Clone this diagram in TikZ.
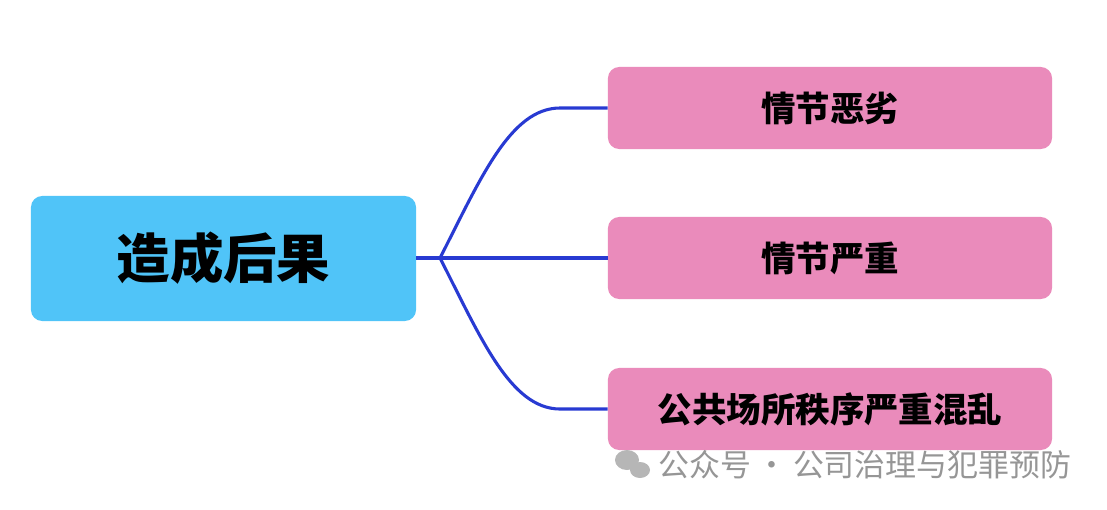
\documentclass[tikz,border=0pt]{standalone}
\usepackage{fontspec}
\newfontfamily\cjk{Noto Sans CJK SC}
\definecolor{rootblue}{RGB}{80,196,248}
\definecolor{leafpink}{RGB}{234,139,187}
\definecolor{linkblue}{RGB}{40,58,210}
\definecolor{markgray}{RGB}{150,150,150}
\tikzset{
  rootbox/.style={rectangle, rounded corners=8pt, fill=rootblue, minimum width=9.625cm, minimum height=3.125cm, font=\cjk\bfseries\fontsize{38}{44}\selectfont},
  leafbox/.style={rectangle, rounded corners=8pt, fill=leafpink, minimum width=11.1cm, minimum height=2.05cm, font=\cjk\bfseries\fontsize{24.5}{30}\selectfont},
  link/.style={linkblue, line width=2.2pt}
}
\begin{document}
\begin{tikzpicture}[x=0.025cm, y=-0.025cm]
  \useasboundingbox (0,0) rectangle (1107,509);

  % Root node
  \node[rootbox] (root) at (223.5, 258.5) {造成后果};

  % Leaves
  \node[leafbox] (bad) at (830, 108) {情节恶劣};
  \node[leafbox] (serious) at (830, 258) {情节严重};
  \node[leafbox] (chaos) at (830, 409) {公共场所秩序严重混乱};

  % Branch point
  \coordinate (fork) at (440, 258);

  % Edges from root to leaves
  \draw[link] (root.east |- fork) -- (fork);
  \draw[link] (fork) .. controls (480, 180) and (510, 108) .. (560, 108) -- (bad.west);
  \draw[link] (fork) -- (serious.west);
  \draw[link] (fork) .. controls (480, 336) and (510, 409) .. (560, 409) -- (chaos.west);

  % Watermark
  \node[font=\cjk\fontsize{22}{26}\selectfont, text=markgray, anchor=west] (mark) at (654, 465) {公众号\,·\,公司治理与犯罪预防};
  \fill[markgray!70] (627, 460) ellipse (12 and 10);
  \fill[markgray!70] (640, 470) ellipse (10 and 8);
\end{tikzpicture}
\end{document}
